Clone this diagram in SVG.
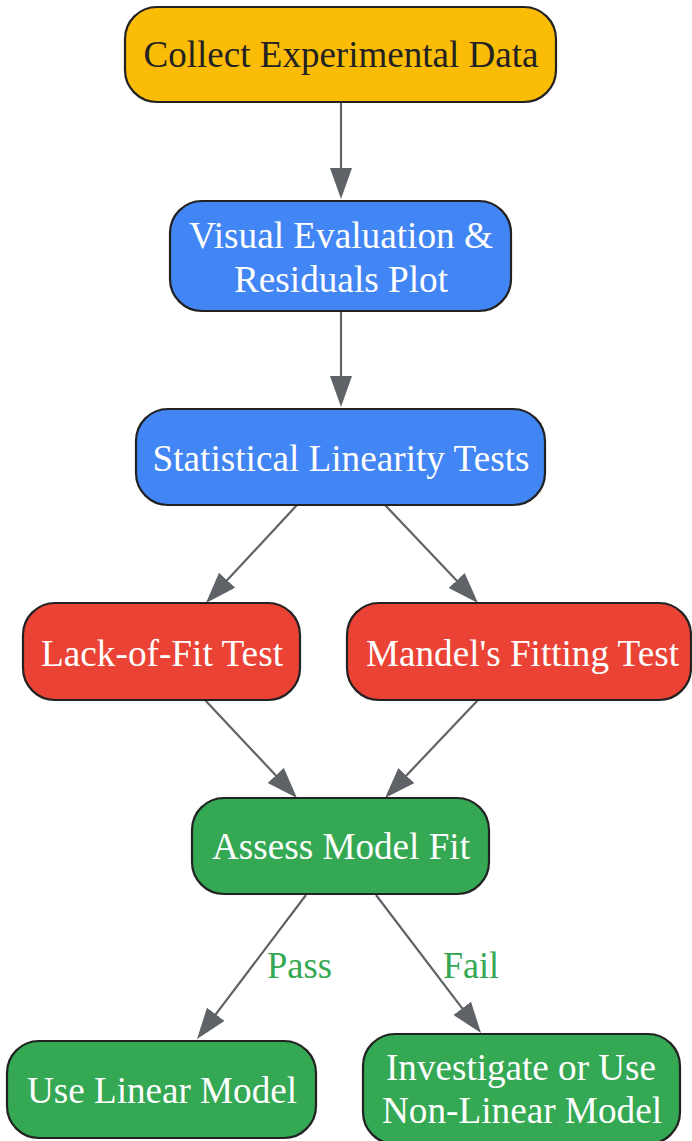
<svg xmlns="http://www.w3.org/2000/svg" width="692" height="1141" viewBox="0 0 692 1141">
<style>
.n{stroke:#222;stroke-width:2.2}
.t{font-family:"Liberation Serif","Times New Roman",serif;font-size:37px;text-anchor:middle;fill:#fff}
.dark{fill:#222}
.e{stroke:#5f6368;stroke-width:2.2;fill:none}
.lbl{font-family:"Liberation Serif","Times New Roman",serif;font-size:37px;text-anchor:middle;fill:#34a853}
</style>
<defs>
<marker id="arr" markerUnits="userSpaceOnUse" markerWidth="32" markerHeight="24" refX="11" refY="11" orient="auto">
<path d="M0,0 L31,11 L0,22 z" fill="#5f6368"/>
</marker>
</defs>
<rect width="692" height="1141" fill="#fff"/>
<g id="connectors">
<line class="e" x1="341" y1="102" x2="341" y2="179" marker-end="url(#arr)"/>
<line class="e" x1="341" y1="311" x2="341" y2="387" marker-end="url(#arr)"/>
<line class="e" x1="297" y1="505" x2="219.6" y2="588.3" marker-end="url(#arr)"/>
<line class="e" x1="385" y1="505" x2="464.2" y2="588.5" marker-end="url(#arr)"/>
<line class="e" x1="205" y1="700" x2="283.3" y2="783.4" marker-end="url(#arr)"/>
<line class="e" x1="478" y1="700" x2="398.8" y2="783.5" marker-end="url(#arr)"/>
<line class="e" x1="306" y1="895" x2="209.1" y2="1023.1" marker-end="url(#arr)"/>
<line class="e" x1="376" y1="895" x2="468.9" y2="1017.1" marker-end="url(#arr)"/>
<text class="lbl" x="299.5" y="978" textLength="65" lengthAdjust="spacingAndGlyphs">Pass</text>
<text class="lbl" x="471" y="978" textLength="56" lengthAdjust="spacingAndGlyphs">Fail</text>
</g>
<g id="collect">
<rect class="n" x="125" y="7" width="431" height="95" rx="32" fill="#fbbc05"/>
<text class="t dark" x="341" y="67" textLength="395" lengthAdjust="spacingAndGlyphs">Collect Experimental Data</text>
</g>
<g id="visual">
<rect class="n" x="170" y="201" width="341" height="110" rx="32" fill="#4285f4"/>
<text class="t" x="341" y="248" textLength="304" lengthAdjust="spacingAndGlyphs">Visual Evaluation &amp;</text>
<text class="t" x="341" y="292" textLength="214" lengthAdjust="spacingAndGlyphs">Residuals Plot</text>
</g>
<g id="stat">
<rect class="n" x="136" y="409" width="409" height="96" rx="32" fill="#4285f4"/>
<text class="t" x="341" y="471" textLength="377" lengthAdjust="spacingAndGlyphs">Statistical Linearity Tests</text>
</g>
<g id="lof">
<rect class="n" x="23" y="603" width="277" height="97" rx="32" fill="#ea4335"/>
<text class="t" x="162" y="666" textLength="242" lengthAdjust="spacingAndGlyphs">Lack-of-Fit Test</text>
</g>
<g id="mandel">
<rect class="n" x="347" y="603" width="344" height="97" rx="32" fill="#ea4335"/>
<text class="t" x="522.5" y="666" textLength="313" lengthAdjust="spacingAndGlyphs">Mandel's Fitting Test</text>
</g>
<g id="assess">
<rect class="n" x="192" y="798" width="297" height="96" rx="32" fill="#34a853"/>
<text class="t" x="341" y="859" textLength="258" lengthAdjust="spacingAndGlyphs">Assess Model Fit</text>
</g>
<g id="linear">
<rect class="n" x="7" y="1041" width="309" height="97" rx="32" fill="#34a853"/>
<text class="t" x="162" y="1103" textLength="270" lengthAdjust="spacingAndGlyphs">Use Linear Model</text>
</g>
<g id="nonlinear">
<rect class="n" x="363" y="1034" width="317" height="110" rx="32" fill="#34a853"/>
<text class="t" x="521" y="1080" textLength="270" lengthAdjust="spacingAndGlyphs">Investigate or Use</text>
<text class="t" x="522" y="1123" textLength="280" lengthAdjust="spacingAndGlyphs">Non-Linear Model</text>
</g>
</svg>
